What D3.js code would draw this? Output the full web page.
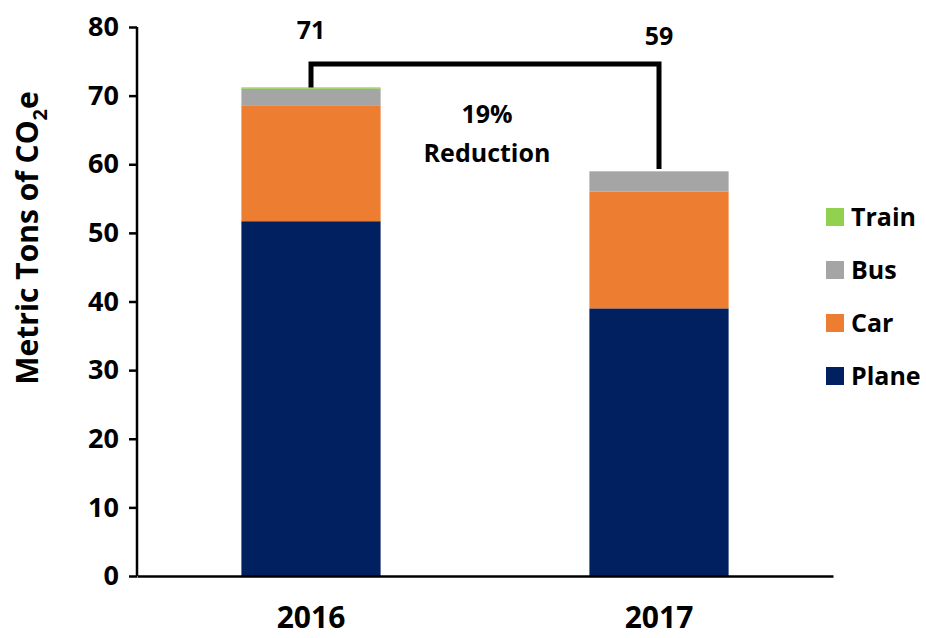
<!DOCTYPE html>
<html><head><meta charset="utf-8">
<script src="https://cdn.jsdelivr.net/npm/d3@7"></script>
<style>body{margin:0;background:#fff}svg{display:block}text{font-family:"Open Sans",sans-serif;font-weight:bold;fill:#000}</style>
</head><body><svg id="c" width="926" height="638"></svg>
<script>
const years = ["2016", "2017"];
const modes = ["Plane", "Car", "Bus", "Train"];
const plane = [51.7, 39.0];
const car = [16.9, 17.0];
const bus = [2.4, 2.9];
const train = [0.2, 0.1];
const totalLabels = ["71", "59"];
const yTicks = [0, 10, 20, 30, 40, 50, 60, 70, 80];
const colors = {Plane: "#002060", Car: "#ED7D31", Bus: "#A5A5A5", Train: "#92D050"};

const svg = d3.select("#c");
const x = d3.scaleBand().domain(years).range([137, 833]).paddingInner(0.6).paddingOuter(0.3);
const y = d3.scaleLinear().domain([0, 80]).range([576, 27]);

const rows = years.map((yr, i) => ({year: yr, Plane: plane[i], Car: car[i], Bus: bus[i], Train: train[i]}));
const stack = d3.stack().keys(modes)(rows);

svg.append("g").selectAll("g").data(stack).join("g").attr("fill", d => colors[d.key])
  .selectAll("rect").data(d => d).join("rect")
  .attr("x", d => x(d.data.year)).attr("width", x.bandwidth())
  .attr("y", d => y(d[1])).attr("height", d => y(d[0]) - y(d[1]));

const F = "'Open Sans', sans-serif";
// y axis
const ya = svg.append("g").attr("transform", "translate(137,0)")
  .call(d3.axisLeft(y).tickValues(yTicks).tickSize(8).tickPadding(10));
ya.select(".domain").attr("stroke", "#000").attr("stroke-width", 2.5).attr("d", `M0,${y(80)}V${y(0)}`);
ya.selectAll(".tick line").attr("stroke", "#000").attr("stroke-width", 2.5);
ya.selectAll(".tick text").style("font-size", "27px").style("font-family", F).style("font-weight", "bold").attr("fill", "#000");

// x axis
const xa = svg.append("g").attr("transform", `translate(0,${y(0)})`)
  .call(d3.axisBottom(x).tickSize(0).tickPadding(0));
xa.select(".domain").attr("stroke", "#000").attr("stroke-width", 2.5);
xa.selectAll(".tick text").attr("dy", null).attr("y", 52).style("font-size", "30px").style("font-family", F).style("font-weight", "bold").attr("fill", "#000");

// totals
const totals = rows.map(r => modes.reduce((s, k) => s + r[k], 0));
svg.selectAll(".tot").data(years).join("text").attr("class", "tot")
  .attr("x", d => x(d) + x.bandwidth() / 2)
  .attr("y", (d, i) => i === 0 ? 39 : 45)
  .attr("text-anchor", "middle").style("font-size", "25px").text((d, i) => totalLabels[i]);

// bracket
const cx0 = x(years[0]) + x.bandwidth() / 2, cx1 = x(years[1]) + x.bandwidth() / 2;
const by = 64;
svg.append("path").attr("fill", "none").attr("stroke", "#000").attr("stroke-width", 5)
  .attr("d", `M${cx0},${y(totals[0])}V${by}H${cx1}V${y(totals[1]) - 2}`);

svg.append("text").attr("x", (cx0 + cx1) / 2 + 2).attr("y", 123).attr("text-anchor", "middle").style("font-size", "25px").text("19%");
svg.append("text").attr("x", (cx0 + cx1) / 2 + 2).attr("y", 162).attr("text-anchor", "middle").style("font-size", "25px").text("Reduction");

// y title
const yt = svg.append("text").attr("transform", "translate(38,238) rotate(-90)").attr("text-anchor", "middle").style("font-size", "30px");
yt.append("tspan").text("Metric Tons of CO");
yt.append("tspan").attr("dy", 9).style("font-size", "20px").text("2");
yt.append("tspan").attr("dy", -9).text("e");

// legend
const leg = svg.append("g").selectAll("g").data(modes.slice().reverse()).join("g")
  .attr("transform", (d, i) => `translate(826,${217 + i * 53})`);
leg.append("rect").attr("x", 0).attr("y", -9).attr("width", 18).attr("height", 18).attr("fill", d => colors[d]);
leg.append("text").attr("x", 25).attr("y", 9).style("font-size", "25px").text(d => d);
</script></body></html>
